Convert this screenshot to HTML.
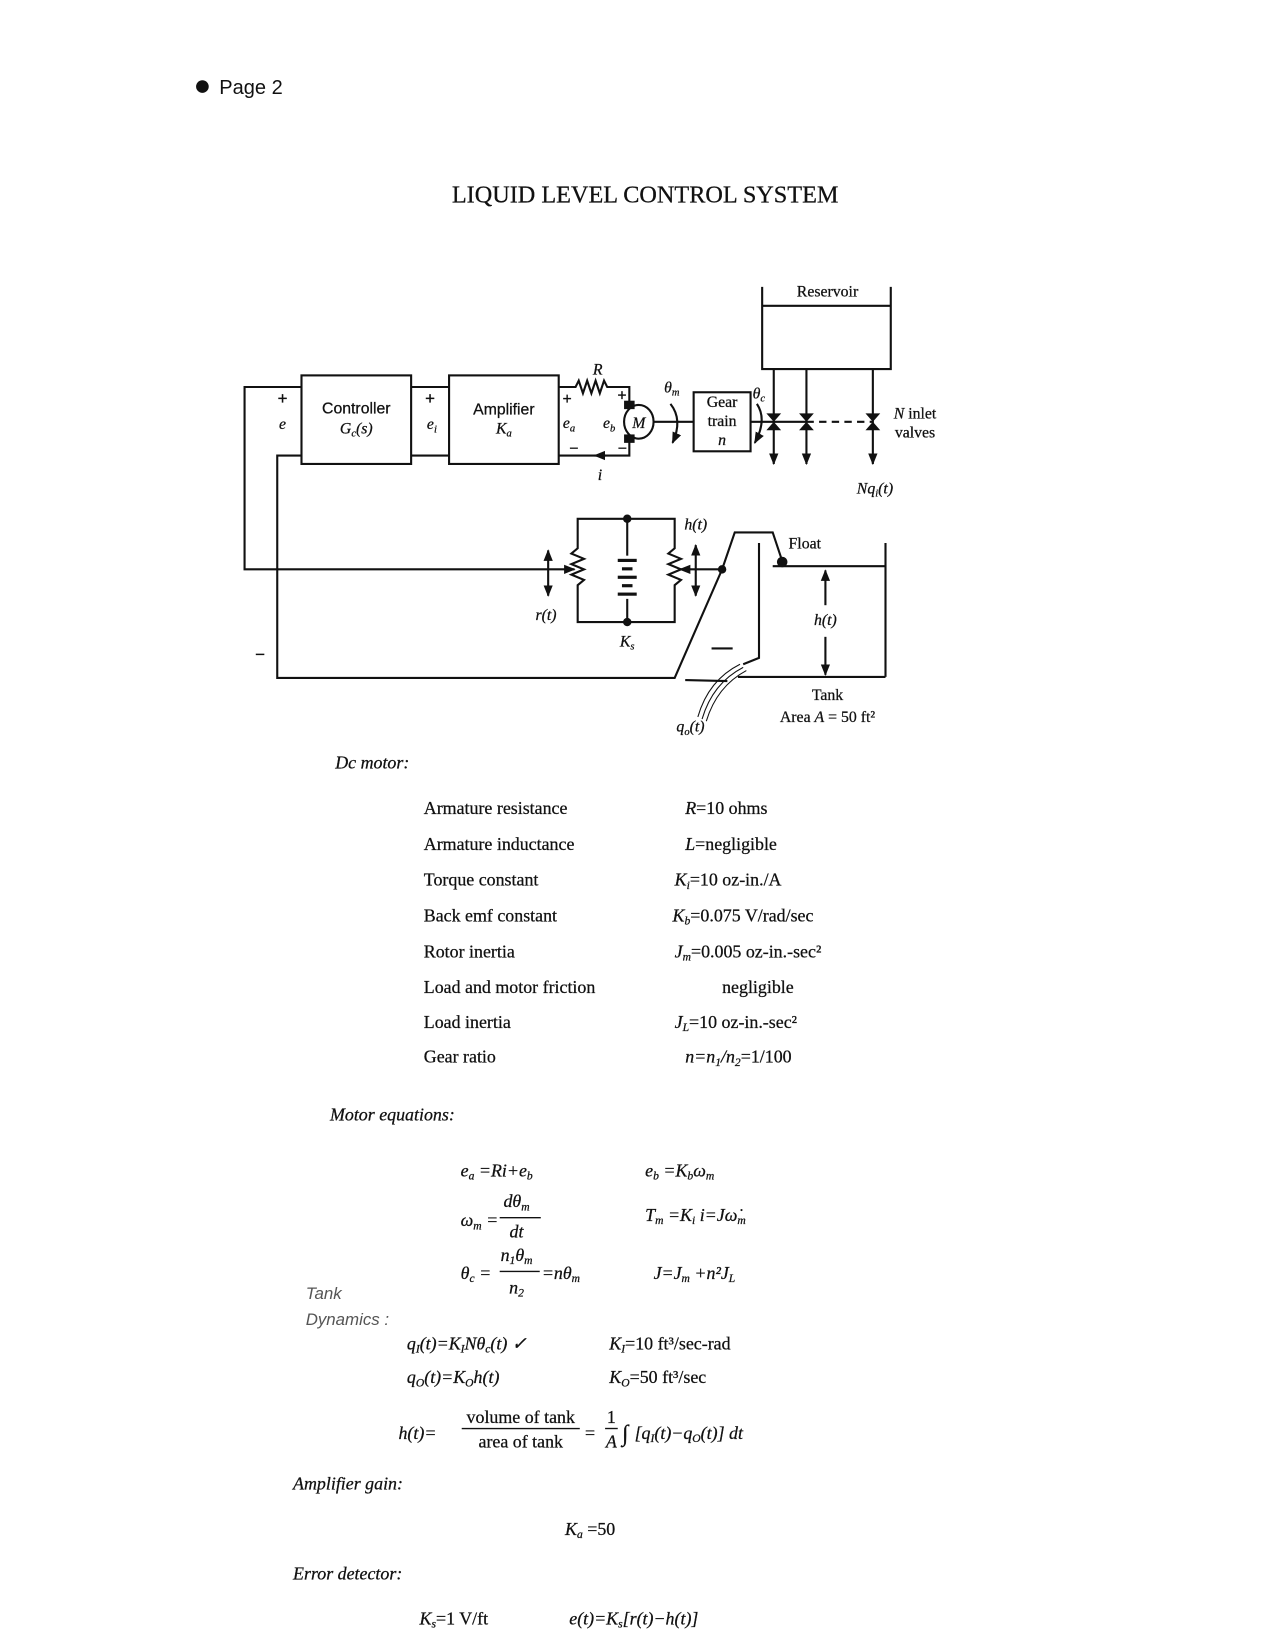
<!DOCTYPE html>
<html><head><meta charset="utf-8"><style>
html,body{margin:0;padding:0;background:#fff}
svg{display:block}
text{font-family:"Liberation Serif",serif;fill:#111;stroke:#111;stroke-width:0.25}
.s{font-family:"Liberation Sans",sans-serif}
.i{font-style:italic}
</style></head><body>
<svg width="1265" height="1650" viewBox="0 0 1200 1565" xmlns="http://www.w3.org/2000/svg">
<defs>
<marker id="a" viewBox="0 0 10 10" refX="9" refY="5" markerWidth="5.5" markerHeight="5.5" orient="auto-start-reverse"><path d="M0,1 L10,5 L0,9z" fill="#111"/></marker>
</defs>
<circle cx="192" cy="82" r="6" fill="#111"/>
<text x="208" y="89" class="s" font-size="19" style="stroke-width:0">Page 2</text>
<text x="612" y="192" font-size="23" text-anchor="middle">LIQUID LEVEL CONTROL SYSTEM</text>

<g stroke="#111" stroke-width="2" fill="none">
<rect x="286" y="356" width="104" height="84"/>
<rect x="426" y="356" width="104" height="84"/>
<rect x="658" y="372" width="54" height="56"/>
<polyline points="286,367 232,367 232,540 545,540" marker-end="url(#a)"/>
<polyline points="286,432 263,432 263,643 640,643 685,540 697,505 733,505 742,532"/>
<line x1="390" y1="367" x2="426" y2="367"/>
<line x1="390" y1="432" x2="426" y2="432"/>
<polyline points="530,367 546,367 549,361 553,373 557,361 561,373 565,361 569,373 573,361 576,367 597,367 597,386"/>
<polyline points="597,414 597,432 530,432"/>
<line x1="575" y1="432" x2="564" y2="432" marker-end="url(#a)"/>
<ellipse cx="606" cy="400" rx="14" ry="16"/>
<line x1="620" y1="400" x2="658" y2="400"/>
<line x1="712" y1="400" x2="734" y2="400"/>
<path d="M636,383 Q648,398 638,420" marker-end="url(#a)"/>
<path d="M718,383 Q728,398 716,420" marker-end="url(#a)"/>
<polyline points="723,272 723,350 845,350 845,272"/>
<line x1="723" y1="290" x2="845" y2="290"/>
<line x1="734" y1="350" x2="734" y2="440" marker-end="url(#a)"/>
<line x1="765" y1="350" x2="765" y2="440" marker-end="url(#a)"/>
<line x1="828" y1="350" x2="828" y2="440" marker-end="url(#a)"/>
<line x1="734" y1="400" x2="765" y2="400"/>
<line x1="765" y1="400" x2="828" y2="400" stroke-dasharray="7,5"/>
<polyline points="595,492 548,492 548,520 542,525 554,530 542,535 554,540 542,545 554,550 548,555 548,590 640,590 640,555 646,550 634,545 646,540 634,535 646,530 634,525 640,520 640,492 595,492"/>
<line x1="595" y1="492" x2="595" y2="527"/>
<line x1="595" y1="568" x2="595" y2="590"/>
<line x1="520" y1="522" x2="520" y2="565" marker-start="url(#a)" marker-end="url(#a)"/>
<line x1="660" y1="517" x2="660" y2="565" marker-start="url(#a)" marker-end="url(#a)"/>
<line x1="685" y1="540" x2="645" y2="540" marker-end="url(#a)"/>
<polyline points="720,515 720,624 705,630"/>
<polyline points="733,537 840,537"/>
<line x1="840" y1="515" x2="840" y2="642"/>
<line x1="700" y1="642" x2="840" y2="642"/>
<line x1="783" y1="541" x2="783" y2="574" marker-start="url(#a)"/>
<line x1="783" y1="604" x2="783" y2="640" marker-end="url(#a)"/>
<line x1="675" y1="615" x2="695" y2="615"/>
<line x1="650" y1="645" x2="690" y2="646"/>
<path d="M702,630 Q672,645 662,680" stroke-width="1"/>
<path d="M705,633 Q676,648 666,682" stroke-width="1"/>
<path d="M708,636 Q680,651 670,684" stroke-width="1"/>
</g>
<g fill="#111">
<rect x="592" y="380" width="10" height="8"/><rect x="592" y="412" width="10" height="8"/>
<rect x="586" y="530" width="18" height="3"/><rect x="590" y="538" width="10" height="3"/><rect x="586" y="546" width="18" height="3"/><rect x="590" y="554" width="10" height="3"/><rect x="586" y="562" width="18" height="3"/>
<circle cx="595" cy="492" r="4"/><circle cx="595" cy="590" r="4"/><circle cx="685" cy="540" r="4"/><circle cx="742" cy="533" r="5"/>
<path d="M727,392 L741,392 L727,408 L741,408z"/>
<path d="M758,392 L772,392 L758,408 L772,408z"/>
<path d="M821,392 L835,392 L821,408 L835,408z"/>
</g>
<g font-size="15">
<text x="268" y="383" text-anchor="middle" class="s" font-size="16">+</text>
<text x="268" y="407" text-anchor="middle" class="i">e</text>
<text x="408" y="383" text-anchor="middle" class="s" font-size="16">+</text>
<text x="405" y="407" class="i">e<tspan font-size="10" dy="3">i</tspan></text>
<text x="338" y="392" text-anchor="middle" class="s">Controller</text>
<text x="338" y="411" text-anchor="middle" class="i">G<tspan font-size="10" dy="3">c</tspan><tspan dy="-3">(s)</tspan></text>
<text x="478" y="393" text-anchor="middle" class="s">Amplifier</text>
<text x="478" y="411" text-anchor="middle" class="i">K<tspan font-size="10" dy="3">a</tspan></text>
<text x="567" y="355" text-anchor="middle" class="i">R</text>
<text x="538" y="383" text-anchor="middle" class="s">+</text>
<text x="590" y="380" text-anchor="middle" class="s">+</text>
<text x="534" y="406" class="i">e<tspan font-size="10" dy="3">a</tspan></text>
<text x="572" y="406" class="i">e<tspan font-size="10" dy="3">b</tspan></text>
<text x="606" y="406" text-anchor="middle" class="i">M</text>
<text x="540" y="430" class="s">−</text>
<text x="586" y="430" class="s">−</text>
<text x="567" y="455" class="i">i</text>
<text x="630" y="372" class="i">θ<tspan font-size="10" dy="3">m</tspan></text>
<text x="714" y="378" class="i">θ<tspan font-size="10" dy="3">c</tspan></text>
<text x="685" y="386" text-anchor="middle">Gear</text>
<text x="685" y="404" text-anchor="middle">train</text>
<text x="685" y="422" text-anchor="middle" class="i">n</text>
<text x="785" y="281" text-anchor="middle">Reservoir</text>
<text x="868" y="397" text-anchor="middle"><tspan class="i">N</tspan> inlet</text>
<text x="868" y="415" text-anchor="middle">valves</text>
<text x="830" y="468" text-anchor="middle" class="i">Nq<tspan font-size="10" dy="3">i</tspan><tspan dy="-3">(t)</tspan></text>
<text x="660" y="502" text-anchor="middle" class="i">h(t)</text>
<text x="518" y="588" text-anchor="middle" class="i">r(t)</text>
<text x="595" y="613" text-anchor="middle" class="i">K<tspan font-size="10" dy="3">s</tspan></text>
<text x="748" y="520">Float</text>
<text x="783" y="593" text-anchor="middle" class="i">h(t)</text>
<text x="785" y="664" text-anchor="middle">Tank</text>
<text x="785" y="685" text-anchor="middle">Area <tspan class="i">A</tspan> = 50 ft²</text>
<text x="655" y="694" text-anchor="middle" class="i">q<tspan font-size="10" dy="3">o</tspan><tspan dy="-3">(t)</tspan></text>
<text x="242" y="626" class="s" font-size="16">−</text>
</g>

<g font-size="17">
<text x="318" y="729" class="i">Dc motor:</text>
<text x="402" y="772">Armature resistance</text>
<text x="402" y="806">Armature inductance</text>
<text x="402" y="840">Torque constant</text>
<text x="402" y="874">Back emf constant</text>
<text x="402" y="908">Rotor inertia</text>
<text x="402" y="942">Load and motor friction</text>
<text x="402" y="975">Load inertia</text>
<text x="402" y="1008">Gear ratio</text>
<text x="650" y="772"><tspan class="i">R</tspan>=10 ohms</text>
<text x="650" y="806"><tspan class="i">L</tspan>=negligible</text>
<text x="640" y="840"><tspan class="i">K<tspan font-size="11" dy="3">i</tspan></tspan><tspan dy="-3">=10 oz-in./A</tspan></text>
<text x="638" y="874"><tspan class="i">K<tspan font-size="11" dy="3">b</tspan></tspan><tspan dy="-3">=0.075 V/rad/sec</tspan></text>
<text x="640" y="908"><tspan class="i">J<tspan font-size="11" dy="3">m</tspan></tspan><tspan dy="-3">=0.005 oz-in.-sec²</tspan></text>
<text x="685" y="942">negligible</text>
<text x="640" y="975"><tspan class="i">J<tspan font-size="11" dy="3">L</tspan></tspan><tspan dy="-3">=10 oz-in.-sec²</tspan></text>
<text x="650" y="1008" class="i">n=n<tspan font-size="11" dy="3">1</tspan><tspan dy="-3">/n</tspan><tspan font-size="11" dy="3">2</tspan><tspan dy="-3" font-style="normal">=1/100</tspan></text>
<text x="313" y="1063" class="i">Motor equations:</text>

<text x="437" y="1116" class="i">e<tspan font-size="11" dy="3">a</tspan><tspan dy="-3"> =Ri+e</tspan><tspan font-size="11" dy="3">b</tspan></text>
<text x="612" y="1116" class="i">e<tspan font-size="11" dy="3">b</tspan><tspan dy="-3"> =K</tspan><tspan font-size="11" dy="3">b</tspan><tspan dy="-3">ω</tspan><tspan font-size="11" dy="3">m</tspan></text>
<text x="437" y="1163" class="i">ω<tspan font-size="11" dy="3">m</tspan><tspan dy="-3"> =</tspan></text>
<text x="490" y="1145" class="i" text-anchor="middle">dθ<tspan font-size="11" dy="3">m</tspan></text>
<line x1="474" y1="1155" x2="513" y2="1155" stroke="#111" stroke-width="1.3"/>
<text x="490" y="1174" class="i" text-anchor="middle">dt</text>
<text x="612" y="1158" class="i">T<tspan font-size="11" dy="3">m</tspan><tspan dy="-3"> =K</tspan><tspan font-size="11" dy="3">i</tspan><tspan dy="-3"> i=Jω̇</tspan><tspan font-size="11" dy="3">m</tspan></text>
<text x="437" y="1213" class="i">θ<tspan font-size="11" dy="3">c</tspan><tspan dy="-3"> =</tspan></text>
<text x="490" y="1196" class="i" text-anchor="middle">n<tspan font-size="11" dy="3">1</tspan><tspan dy="-3">θ</tspan><tspan font-size="11" dy="3">m</tspan></text>
<line x1="474" y1="1206" x2="512" y2="1206" stroke="#111" stroke-width="1.3"/>
<text x="490" y="1227" class="i" text-anchor="middle">n<tspan font-size="11" dy="3">2</tspan></text>
<text x="514" y="1213" class="i">=nθ<tspan font-size="11" dy="3">m</tspan></text>
<text x="620" y="1213" class="i">J=J<tspan font-size="11" dy="3">m</tspan><tspan dy="-3"> +n²J</tspan><tspan font-size="11" dy="3">L</tspan></text>

<text x="290" y="1232" class="s i" style="fill:#555;stroke-width:0" font-size="16">Tank</text>
<text x="290" y="1257" class="s i" style="fill:#555;stroke-width:0" font-size="16">Dynamics :</text>
<text x="386" y="1280" class="i">q<tspan font-size="11" dy="3">I</tspan><tspan dy="-3">(t)=K</tspan><tspan font-size="11" dy="3">I</tspan><tspan dy="-3">Nθ</tspan><tspan font-size="11" dy="3">c</tspan><tspan dy="-3">(t) ✓</tspan></text>
<text x="578" y="1280"><tspan class="i">K<tspan font-size="11" dy="3">I</tspan></tspan><tspan dy="-3">=10 ft³/sec-rad</tspan></text>
<text x="386" y="1312" class="i">q<tspan font-size="11" dy="3">O</tspan><tspan dy="-3">(t)=K</tspan><tspan font-size="11" dy="3">O</tspan><tspan dy="-3">h(t)</tspan></text>
<text x="578" y="1312"><tspan class="i">K<tspan font-size="11" dy="3">O</tspan></tspan><tspan dy="-3">=50 ft³/sec</tspan></text>
<text x="378" y="1365" class="i">h(t)=</text>
<text x="494" y="1350" text-anchor="middle">volume of tank</text>
<line x1="438" y1="1355" x2="550" y2="1355" stroke="#111" stroke-width="1.3"/>
<text x="494" y="1373" text-anchor="middle">area of tank</text>
<text x="555" y="1365">=</text>
<text x="580" y="1350" text-anchor="middle">1</text>
<line x1="574" y1="1355" x2="586" y2="1355" stroke="#111" stroke-width="1.3"/>
<text x="580" y="1373" text-anchor="middle" class="i">A</text>
<text x="590" y="1367" class="i" font-size="22">∫</text>
<text x="602" y="1365" class="i">[q<tspan font-size="11" dy="3">I</tspan><tspan dy="-3">(t)−q</tspan><tspan font-size="11" dy="3">O</tspan><tspan dy="-3">(t)] dt</tspan></text>

<text x="278" y="1413" class="i">Amplifier gain:</text>
<text x="536" y="1456" class="i">K<tspan font-size="11" dy="3">a</tspan><tspan dy="-3" font-style="normal"> =50</tspan></text>
<text x="278" y="1498" class="i">Error detector:</text>
<text x="398" y="1541"><tspan class="i">K<tspan font-size="11" dy="3">s</tspan></tspan><tspan dy="-3">=1 V/ft</tspan></text>
<text x="540" y="1541" class="i">e(t)=K<tspan font-size="11" dy="3">s</tspan><tspan dy="-3">[r(t)−h(t)]</tspan></text>
</g>
</svg>
</body></html>
